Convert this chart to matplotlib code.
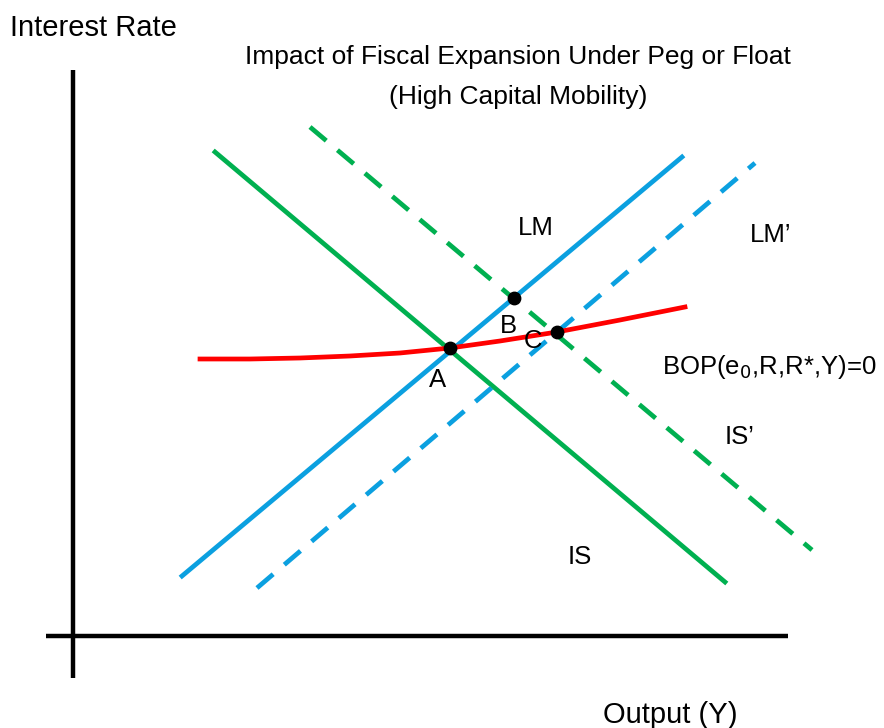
import matplotlib
matplotlib.use("Agg")
import matplotlib.pyplot as plt

plt.rcParams['font.family'] = ['Liberation Sans', 'DejaVu Sans']

# curve end points, in picture coordinates (x right, y down)
is_x = [215, 725]
is_y = [152, 582]
is2_x = [310, 812]
is2_y = [127, 550]
lm_x = [182, 682]
lm_y = [576, 157]
lm2_x = [257, 755]
lm2_y = [588, 163]
bop_x = [200, 250, 300, 350, 400, 450, 500, 557, 620, 685]
bop_y = [359, 359, 358, 356, 353, 348, 341, 332, 320, 307]
pt_names = ['A', 'B', 'C']
pt_x = [450, 514, 557]
pt_y = [348, 298, 332]

green = '#00B050'
blue = '#0BA0E0'

fig = plt.figure(figsize=(8.84, 7.28), dpi=100)
ax = fig.add_axes([0, 0, 1, 1])
ax.set_xlim(0, 884)
ax.set_ylim(728, 0)
ax.axis('off')

# axes of the diagram
ax.plot([73, 73], [70, 678], color='black', lw=3.2, solid_capstyle='butt')
ax.plot([46, 788], [636, 636], color='black', lw=3.2, solid_capstyle='butt')

dash = (0, (4.5, 3.1))
ax.plot(is_x, is_y, color=green, lw=3.4)
ax.plot(is2_x, is2_y, color=green, lw=3.4, ls=dash)
ax.plot(lm_x, lm_y, color=blue, lw=3.4)
ax.plot(lm2_x, lm2_y, color=blue, lw=3.4, ls=dash)
ax.plot(bop_x, bop_y, color='red', lw=3.4)
ax.scatter(pt_x, pt_y, s=80, color='black', zorder=5)

fs = 18.5
ax.text(10, 28, 'Interest Rate', fontsize=21, va='center', ha='left')
ax.text(518, 57, 'Impact of Fiscal Expansion Under Peg or Float', fontsize=19, ha='center', va='center')
ax.text(518, 97, '(High Capital Mobility)', fontsize=19, ha='center', va='center')
ax.text(536, 228, 'LM', fontsize=fs, ha='center', va='center')
ax.text(771, 235, 'LM\u2019', fontsize=fs, ha='center', va='center')
ax.text(662, 367, 'BOP(e$_0$,R,R*,Y)=0', fontsize=fs, ha='left', va='center')
ax.text(740, 437, 'IS\u2019', fontsize=fs, ha='center', va='center')
ax.text(580, 557, 'IS', fontsize=fs, ha='center', va='center')
ax.text(670, 715, 'Output (Y)', fontsize=21, ha='center', va='center')
ax.text(438, 380, pt_names[0], fontsize=fs, ha='center', va='center')
ax.text(508, 326, pt_names[1], fontsize=fs, ha='center', va='center')
ax.text(533, 341, pt_names[2], fontsize=fs, ha='center', va='center')

fig.savefig('out.png', dpi=100)
